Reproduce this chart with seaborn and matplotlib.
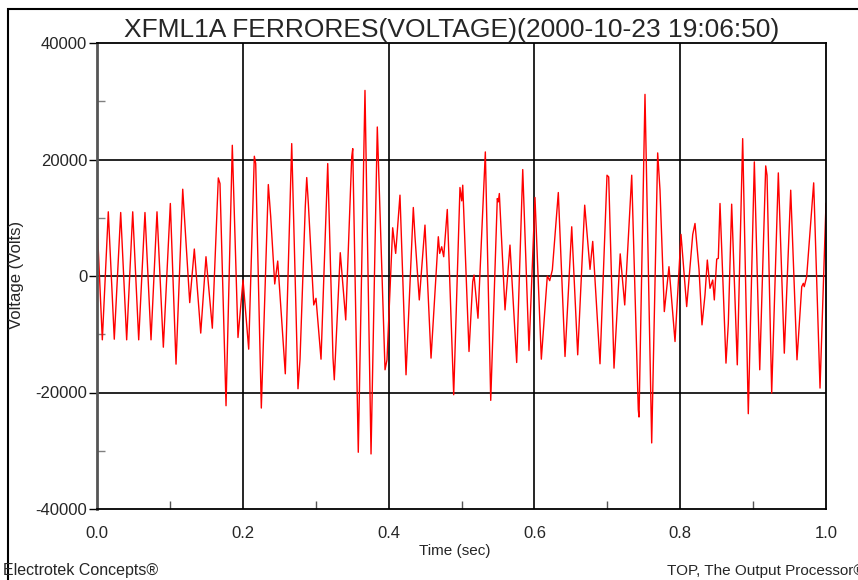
import matplotlib
matplotlib.use("Agg")
import matplotlib.pyplot as plt
from matplotlib.patches import Rectangle
from matplotlib.ticker import MultipleLocator
import seaborn as sns

# Recorded voltage waveform, read as turning points (time in s, voltage in V)
time_s = [
    0.0000, 0.0073, 0.0155, 0.0237, 0.0325, 0.0407, 0.0490, 0.0572, 0.0658, 0.0741,
    0.0823, 0.0910, 0.1006, 0.1084, 0.1176, 0.1272, 0.1335, 0.1423, 0.1495, 0.1582,
    0.1664, 0.1687, 0.1770, 0.1856, 0.1934, 0.2003, 0.2081, 0.2158, 0.2177, 0.2254,
    0.2350, 0.2383, 0.2438, 0.2479, 0.2583, 0.2671, 0.2757, 0.2785, 0.2857, 0.2877,
    0.2899, 0.2936, 0.2973, 0.3004, 0.3073, 0.3165, 0.3237, 0.3255, 0.3337, 0.3412,
    0.3494, 0.3508, 0.3584, 0.3676, 0.3759, 0.3845, 0.3951, 0.3978, 0.4056, 0.4097,
    0.4156, 0.4239, 0.4339, 0.4362, 0.4421, 0.4499, 0.4582, 0.4682, 0.4701, 0.4728,
    0.4756, 0.4805, 0.4893, 0.4979, 0.5003, 0.5017, 0.5103, 0.5154, 0.5172, 0.5226,
    0.5327, 0.5401, 0.5491, 0.5505, 0.5519, 0.5597, 0.5665, 0.5757, 0.5840, 0.5926,
    0.6008, 0.6095, 0.6177, 0.6210, 0.6246, 0.6328, 0.6420, 0.6512, 0.6594, 0.6690,
    0.6763, 0.6800, 0.6900, 0.6996, 0.7019, 0.7092, 0.7177, 0.7239, 0.7335, 0.7425,
    0.7435, 0.7517, 0.7609, 0.7691, 0.7723, 0.7782, 0.7846, 0.7929, 0.8011, 0.8089,
    0.8172, 0.8203, 0.8258, 0.8299, 0.8340, 0.8372, 0.8409, 0.8446, 0.8468, 0.8501,
    0.8523, 0.8546, 0.8628, 0.8660, 0.8706, 0.8783, 0.8857, 0.8934, 0.9017, 0.9091,
    0.9173, 0.9191, 0.9255, 0.9346, 0.9428, 0.9516, 0.9602, 0.9667, 0.9689, 0.9702,
    0.9735, 0.9831, 0.9918, 1.0000,
]
volts = [
    9500, -10960, 11020, -10850, 10900, -10960, 11020, -10960, 10900, -10960,
    11020, -12220, 12450, -15130, 14900, -4570, 4630, -9800, 3310, -8960,
    16840, 15870, -22270, 22440, -10560, -700, -12560, 20560, 19300, -22670,
    15700, 10160, -1370, 2570, -16790, 22730, -19360, -14280, 11880, 16900,
    12450, 3880, -4970, -3830, -14280, 19300, -14000, -17820, 4000, -7540,
    20440, 21870, -30260, 31860, -30550, 25580, -16100, -14390, 8280, 3880,
    13880, -16960, 11760, 6740, -4110, 8740, -14100, 6740, 3880, 5020,
    3310, 11420, -20380, 15190, 12900, 15590, -12960, -970, 170, -7250,
    21300, -21350, 13300, 12730, 14160, -5820, 5310, -14850, 18270, -12790,
    13480, -14280, 0, -800, 1030, 14330, -13820, 8450, -13530, 12160,
    1140, 5940, -15070, 17300, 17010, -15820, 3800, -4970, 17300, -22950,
    -24210, 31180, -28660, 21130, 14730, -6110, 1600, -11250, 7140, -5250,
    7140, 9020, 1140, -8390, -3250, 2740, -2110, -690, -4110, 2910,
    3030, 12450, -14960, -8150, 12330, -15250, 23580, -23640, 19590, -16100,
    18900, 17300, -20100, 17700, -13250, 14730, -14390, -1830, -1260, -1830,
    -110, 15990, -19240, 12500,
]

title = "XFML1A FERRORES(VOLTAGE)(2000-10-23 19:06:50)"
x_ticks = [0.0, 0.2, 0.4, 0.6, 0.8, 1.0]
y_ticks = [-40000, -20000, 0, 20000, 40000]

sns.set_theme(style="white")
plt.rcParams["font.family"] = ["Liberation Sans", "DejaVu Sans"]

W, H = 858, 580
fig = plt.figure(figsize=(W / 100, H / 100), dpi=100)
fig.patch.set_facecolor("white")

# outer frame (runs off the right and bottom edges)
fig.patches.append(Rectangle((8 / W, -0.1), 1.2, 1 - 9.5 / H + 0.1,
                             transform=fig.transFigure, fill=False,
                             edgecolor="black", linewidth=1.5))

ax = fig.add_axes([97 / W, 1 - 509 / H, 729 / W, 466 / H])
ax.set_facecolor("white")

sns.lineplot(x=time_s, y=volts, ax=ax, color="#ff0000", linewidth=1.0,
             estimator=None, sort=False)

ax.set_xlim(0, 1)
ax.set_ylim(-40000, 40000)
ax.set_xticks(x_ticks)
ax.set_xticklabels([f"{v:.1f}" for v in x_ticks])
ax.set_yticks(y_ticks)
ax.set_yticklabels([str(v) for v in y_ticks])
ax.xaxis.set_minor_locator(MultipleLocator(0.1))
ax.yaxis.set_minor_locator(MultipleLocator(10000))

for v in x_ticks[1:-1]:
    ax.axvline(v, color="black", linewidth=1.2, zorder=1)
for v in y_ticks[1:-1]:
    ax.axhline(v, color="black", linewidth=1.2, zorder=1)

for side in ["top", "right", "bottom", "left"]:
    ax.spines[side].set_color("black")
    ax.spines[side].set_linewidth(1.3)
ax.spines["left"].set_color("#555555")
ax.spines["left"].set_linewidth(2.0)

ax.tick_params(axis="y", which="major", direction="out", length=6, width=1,
               color="black", pad=1, labelsize=12, left=True)
ax.tick_params(axis="y", which="minor", direction="in", length=6, width=1,
               color="#808080", left=True)
ax.tick_params(axis="x", which="major", length=0, pad=12, labelsize=12, bottom=True)
ax.tick_params(axis="x", which="minor", direction="in", length=6, width=1,
               color="#555555", bottom=True)
ax.set_xlabel("")
ax.set_ylabel("")

fig.text(452 / W, 1 - 37 / H, title, ha="center", va="baseline", fontsize=19)
fig.text(17 / W, 1 - 275 / H, "Voltage (Volts)", rotation=90, ha="center",
         va="center", fontsize=12)
fig.text(455 / W, 1 - 551 / H, "Time (sec)", ha="center", va="center", fontsize=11)
fig.text(3 / W, 1 - 575 / H, "Electrotek Concepts®", ha="left", va="baseline",
         fontsize=11.5)
fig.text(667 / W, 1 - 575 / H, "TOP, The Output Processor®", ha="left",
         va="baseline", fontsize=11)

fig.savefig("out.png", dpi=100)
